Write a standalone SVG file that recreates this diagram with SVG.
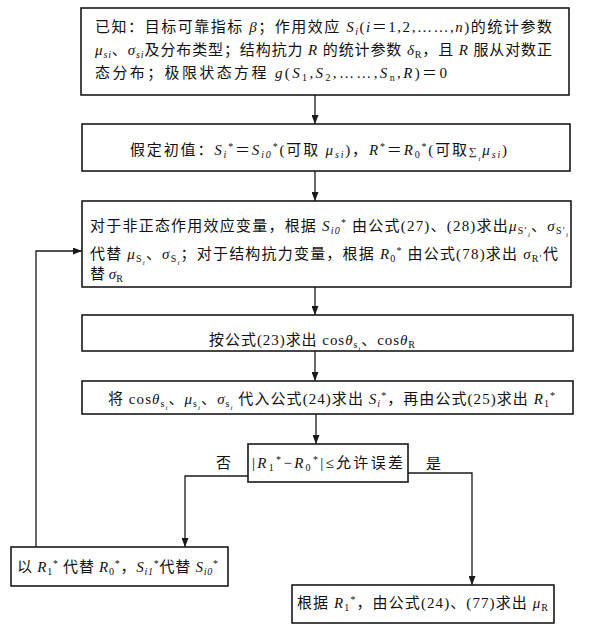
<svg xmlns="http://www.w3.org/2000/svg" width="592" height="631" viewBox="0 0 592 631">
<style>
.box{fill:#fff;stroke:#1a1a1a;stroke-width:1.6}
.ln{fill:none;stroke:#1a1a1a;stroke-width:1.3}
.t{font-family:"Liberation Serif","Noto Sans CJK SC",serif;font-size:15px;fill:#111}
.it{font-style:italic}
.sb{font-size:10px;baseline-shift:-3px}
.sb2{font-size:7px;baseline-shift:-6px}
.sp{font-size:10px;baseline-shift:5px}
</style>
<defs>
<marker id="ah" markerUnits="userSpaceOnUse" markerWidth="9" markerHeight="7" refX="9" refY="3.5" orient="auto">
<path d="M0,0 L9,3.5 L0,7 z" fill="#1a1a1a"/>
</marker>
</defs>
<rect width="592" height="631" fill="#fff"/>
<g id="connectors">
<line class="ln" x1="315" y1="95" x2="315" y2="124" marker-end="url(#ah)"/>
<line class="ln" x1="315" y1="171" x2="315" y2="201" marker-end="url(#ah)"/>
<line class="ln" x1="315" y1="287" x2="315" y2="315" marker-end="url(#ah)"/>
<line class="ln" x1="315" y1="351" x2="315" y2="381" marker-end="url(#ah)"/>
<line class="ln" x1="316" y1="414" x2="316" y2="444" marker-end="url(#ah)"/>
<polyline class="ln" points="248,476 185,476 185,547" marker-end="url(#ah)"/>
<polyline class="ln" points="408,473 472,473 472,585" marker-end="url(#ah)"/>
<polyline class="ln" points="36,547 36,251 82,251" marker-end="url(#ah)"/>
<text class="t" x="216" y="468">否</text>
<text class="t" x="426" y="469">是</text>
</g>
<g id="n1">
<rect class="box" x="81" y="8" width="488" height="87"/>
<text class="t" x="95" y="32" textLength="457" lengthAdjust="spacing">已知：目标可靠指标 <tspan class="it">β</tspan>；作用效应 <tspan class="it">S</tspan><tspan class="sb it">i</tspan>(<tspan class="it">i</tspan>＝1,2,……,<tspan class="it">n</tspan>)的统计参数</text>
<text class="t" x="95" y="55" textLength="457" lengthAdjust="spacing"><tspan class="it">μ</tspan><tspan class="sb it">si</tspan>、<tspan class="it">σ</tspan><tspan class="sb it">si</tspan>及分布类型；结构抗力 <tspan class="it">R</tspan> 的统计参数 <tspan class="it">δ</tspan><tspan class="sb">R</tspan>，且 <tspan class="it">R</tspan> 服从对数正</text>
<text class="t" x="95" y="78" textLength="352" lengthAdjust="spacing">态分布；极限状态方程 <tspan class="it">g</tspan>(<tspan class="it">S</tspan><tspan class="sb">1</tspan>,<tspan class="it">S</tspan><tspan class="sb">2</tspan>,……,<tspan class="it">S</tspan><tspan class="sb">n</tspan>,<tspan class="it">R</tspan>)＝0</text>
</g>
<g id="n2">
<rect class="box" x="82" y="124" width="488" height="47"/>
<text class="t" x="130" y="155" textLength="377" lengthAdjust="spacing">假定初值：<tspan class="it">S</tspan><tspan class="sb it">i</tspan><tspan class="sp">*</tspan>＝<tspan class="it">S</tspan><tspan class="sb it">i0</tspan><tspan class="sp">*</tspan>(可取 <tspan class="it">μ</tspan><tspan class="sb it">si</tspan>)，<tspan class="it">R</tspan><tspan class="sp">*</tspan>＝<tspan class="it">R</tspan><tspan class="sb">0</tspan><tspan class="sp">*</tspan>(可取<tspan font-size="11">∑</tspan><tspan class="sb2 it">i</tspan><tspan class="it">μ</tspan><tspan class="sb it">si</tspan>)</text>
</g>
<g id="n3">
<rect class="box" x="82" y="201" width="489" height="86"/>
<text class="t" x="90" y="231" textLength="478" lengthAdjust="spacing">对于非正态作用效应变量，根据 <tspan class="it">S</tspan><tspan class="sb it">i0</tspan><tspan class="sp">*</tspan> 由公式(27)、(28)求出<tspan class="it">μ</tspan><tspan class="sb">S′</tspan><tspan class="sb2 it">i</tspan>、<tspan class="it">σ</tspan><tspan class="sb">S′</tspan><tspan class="sb2 it">i</tspan></text>
<text class="t" x="90" y="259" textLength="468" lengthAdjust="spacing">代替 <tspan class="it">μ</tspan><tspan class="sb">S</tspan><tspan class="sb2 it">i</tspan>、<tspan class="it">σ</tspan><tspan class="sb">S</tspan><tspan class="sb2 it">i</tspan>；对于结构抗力变量，根据 <tspan class="it">R</tspan><tspan class="sb">0</tspan><tspan class="sp">*</tspan> 由公式(78)求出 <tspan class="it">σ</tspan><tspan class="sb">R′</tspan>代</text>
<text class="t" x="90" y="279">替 <tspan class="it">σ</tspan><tspan class="sb">R</tspan></text>
</g>
<g id="n4">
<rect class="box" x="82" y="315" width="491" height="36"/>
<text class="t" x="209" y="345" textLength="206" lengthAdjust="spacing">按公式(23)求出 cos<tspan class="it">θ</tspan><tspan class="sb">s</tspan><tspan class="sb2 it">i</tspan>、cos<tspan class="it">θ</tspan><tspan class="sb">R</tspan></text>
</g>
<g id="n5">
<rect class="box" x="82" y="381" width="491" height="33"/>
<text class="t" x="108" y="404" textLength="447" lengthAdjust="spacing">将 cos<tspan class="it">θ</tspan><tspan class="sb">s</tspan><tspan class="sb2 it">i</tspan>、<tspan class="it">μ</tspan><tspan class="sb">s</tspan><tspan class="sb2 it">i</tspan>、<tspan class="it">σ</tspan><tspan class="sb">s</tspan><tspan class="sb2 it">i</tspan> 代入公式(24)求出 <tspan class="it">S</tspan><tspan class="sb it">i</tspan><tspan class="sp">*</tspan>，再由公式(25)求出 <tspan class="it">R</tspan><tspan class="sb">1</tspan><tspan class="sp">*</tspan></text>
</g>
<g id="n6">
<rect class="box" x="248" y="444" width="160" height="38"/>
<text class="t" x="252" y="468" textLength="151" lengthAdjust="spacing">|<tspan class="it">R</tspan><tspan class="sb">1</tspan><tspan class="sp">*</tspan>−<tspan class="it">R</tspan><tspan class="sb">0</tspan><tspan class="sp">*</tspan>|≤允许误差</text>
</g>
<g id="n7">
<rect class="box" x="11" y="547" width="217" height="39"/>
<text class="t" x="17" y="572" textLength="201" lengthAdjust="spacing">以 <tspan class="it">R</tspan><tspan class="sb">1</tspan><tspan class="sp">*</tspan> 代替 <tspan class="it">R</tspan><tspan class="sb">0</tspan><tspan class="sp">*</tspan>，<tspan class="it">S</tspan><tspan class="sb it">i1</tspan><tspan class="sp">*</tspan>代替 <tspan class="it">S</tspan><tspan class="sb it">i0</tspan><tspan class="sp">*</tspan></text>
</g>
<g id="n8">
<rect class="box" x="292" y="585" width="262" height="38"/>
<text class="t" x="297" y="608" textLength="251" lengthAdjust="spacing">根据 <tspan class="it">R</tspan><tspan class="sb">1</tspan><tspan class="sp">*</tspan>，由公式(24)、(77)求出 <tspan class="it">μ</tspan><tspan class="sb">R</tspan></text>
</g>
</svg>
